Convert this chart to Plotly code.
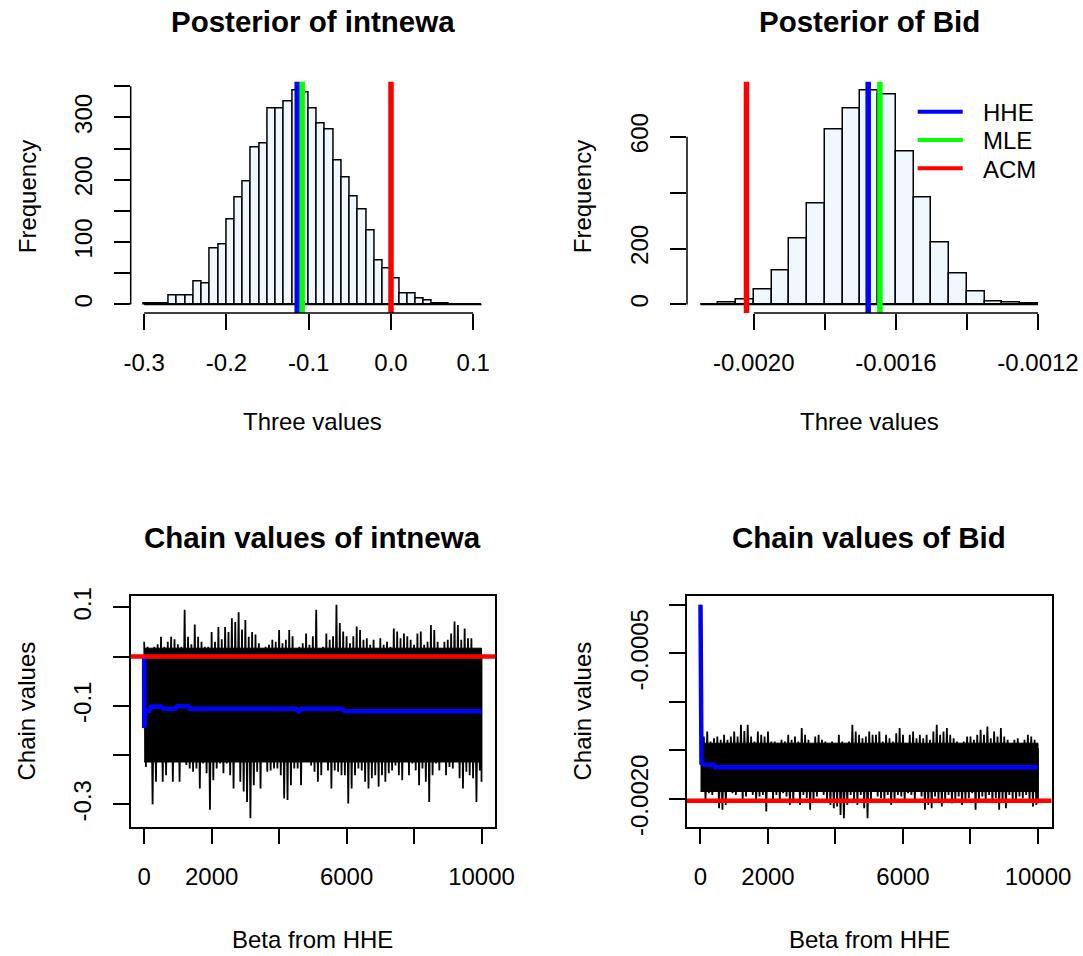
import plotly.graph_objects as go

FONT = "Liberation Sans, Arial, sans-serif"
W, H = 1083, 956

# ---------------- data ----------------
# Histogram of intnewa posterior draws (breaks start -0.30, width 0.01)
int_break_start = -0.30
int_bin_width = 0.01
int_counts = [2, 2, 2, 14, 14, 14, 36, 33, 90, 96, 137, 171, 197, 252, 259,
              314, 314, 325, 344, 340, 314, 290, 280, 231, 203, 174, 153, 118,
              70, 57, 42, 18, 18, 10, 6, 2, 2, 0, 0, 0, 0]

# Histogram of Bid posterior draws (breaks start -0.00215, width 0.00005)
bid_break_start = -0.00215
bid_bin_width = 0.00005
bid_counts = [1, 6, 19, 54, 123, 236, 360, 627, 701, 767, 751, 549, 381, 222,
              110, 47, 12, 6, 2]

# Three estimates
est_names = ["HHE", "MLE", "ACM"]
est_colors = ["#0000FF", "#00FF00", "#FF0000"]
int_estimates = [-0.114, -0.108, 0.0]
bid_estimates = [-0.001678, -0.001645, -0.0020205]

# Chain traces: block start iteration, block max (upper) and block min (lower)
chain_iter = [1] + list(range(100, 10001, 100))
int_upper = [0.030, 0.020, 0.012, 0.020, 0.025, 0.040, 0.020, 0.030, 0.040, 0.035,
             0.025, 0.020, 0.095, 0.040, 0.025, 0.065, 0.040, 0.030, 0.020, 0.020,
             0.050, 0.030, 0.060, 0.035, 0.060, 0.050, 0.078, 0.070, 0.090, 0.055,
             0.074, 0.040, 0.050, 0.045, 0.027, 0.017, 0.020, 0.024, 0.034, 0.030,
             0.054, 0.027, 0.034, 0.054, 0.041, 0.017, 0.020, 0.027, 0.047, 0.024,
             0.041, 0.095, 0.017, 0.020, 0.047, 0.034, 0.041, 0.105, 0.068, 0.051,
             0.041, 0.027, 0.041, 0.061, 0.054, 0.034, 0.037, 0.024, 0.034, 0.017,
             0.037, 0.024, 0.030, 0.020, 0.057, 0.051, 0.037, 0.047, 0.041, 0.034,
             0.024, 0.047, 0.051, 0.024, 0.030, 0.064, 0.054, 0.030, 0.017, 0.030,
             0.034, 0.047, 0.071, 0.064, 0.034, 0.057, 0.037, 0.037, 0.014, 0.010,
             0.005]
int_lower = [-0.224, -0.190, -0.300, -0.254, -0.214, -0.254, -0.241, -0.214, -0.254, -0.210,
             -0.254, -0.214, -0.220, -0.227, -0.234, -0.227, -0.268, -0.217, -0.237, -0.311,
             -0.251, -0.227, -0.217, -0.237, -0.217, -0.241, -0.268, -0.214, -0.254, -0.274,
             -0.295, -0.328, -0.261, -0.234, -0.268, -0.194, -0.234, -0.231, -0.227, -0.227,
             -0.241, -0.288, -0.291, -0.261, -0.227, -0.227, -0.261, -0.207, -0.214, -0.221,
             -0.234, -0.254, -0.241, -0.214, -0.231, -0.268, -0.231, -0.234, -0.241, -0.241,
             -0.298, -0.268, -0.241, -0.227, -0.231, -0.254, -0.268, -0.247, -0.241, -0.264,
             -0.241, -0.254, -0.237, -0.231, -0.221, -0.241, -0.251, -0.214, -0.241, -0.217,
             -0.231, -0.261, -0.227, -0.254, -0.295, -0.241, -0.217, -0.231, -0.214, -0.241,
             -0.224, -0.227, -0.207, -0.247, -0.268, -0.234, -0.241, -0.247, -0.295, -0.231,
             -0.254]
bid_upper = [0.0, -0.001357, -0.001306, -0.001409, -0.001375, -0.001357, -0.001392, -0.001340, -0.001392, -0.001357,
             -0.001306, -0.001357, -0.001237, -0.001300, -0.001237, -0.001357, -0.001409, -0.001306, -0.001340, -0.001357,
             -0.001306, -0.001409, -0.001409, -0.001426, -0.001392, -0.001409, -0.001340, -0.001392, -0.001357, -0.001409,
             -0.001271, -0.001340, -0.001392, -0.001443, -0.001357, -0.001340, -0.001392, -0.001409, -0.001426, -0.001409,
             -0.001443, -0.001340, -0.001409, -0.001426, -0.001409, -0.001237, -0.001306, -0.001340, -0.001375, -0.001357,
             -0.001306, -0.001340, -0.001340, -0.001306, -0.001409, -0.001340, -0.001375, -0.001409, -0.001323, -0.001271,
             -0.001340, -0.001426, -0.001340, -0.001306, -0.001375, -0.001340, -0.001375, -0.001340, -0.001392, -0.001306,
             -0.001237, -0.001340, -0.001306, -0.001271, -0.001340, -0.001375, -0.001409, -0.001443, -0.001409, -0.001357,
             -0.001357, -0.001392, -0.001340, -0.001289, -0.001340, -0.001254, -0.001375, -0.001306, -0.001357, -0.001271,
             -0.001357, -0.001392, -0.001426, -0.001392, -0.001375, -0.001426, -0.001392, -0.001340, -0.001357, -0.001392,
             -0.001478]
bid_lower = [-0.001924, -0.002027, -0.001941, -0.001959, -0.001907, -0.002096, -0.002113, -0.002062, -0.001907, -0.001941,
             -0.001959, -0.001924, -0.002027, -0.001976, -0.001924, -0.001959, -0.002027, -0.001976, -0.001959, -0.002131,
             -0.001924, -0.002010, -0.001959, -0.002027, -0.001941, -0.001976, -0.002062, -0.002027, -0.001907, -0.002062,
             -0.001959, -0.001993, -0.002113, -0.002027, -0.001976, -0.001924, -0.001959, -0.002027, -0.002062, -0.002096,
             -0.002079, -0.002165, -0.002199, -0.002062, -0.001959, -0.002027, -0.002062, -0.001959, -0.002096, -0.002199,
             -0.002010, -0.001924, -0.001976, -0.001993, -0.002027, -0.001959, -0.002062, -0.002027, -0.001959, -0.001976,
             -0.002027, -0.001941, -0.001959, -0.002027, -0.001924, -0.001976, -0.002113, -0.002062, -0.002096, -0.001976,
             -0.002027, -0.002079, -0.002027, -0.001959, -0.002045, -0.002010, -0.001976, -0.002062, -0.002027, -0.001993,
             -0.001941, -0.002113, -0.002027, -0.001976, -0.002027, -0.001959, -0.002045, -0.001993, -0.002113, -0.002027,
             -0.002096, -0.001959, -0.002010, -0.002027, -0.001976, -0.001993, -0.001959, -0.002027, -0.002079, -0.002062,
             -0.002045]

# Running HHE estimate along the chain
int_run_iter = [1, 3, 40, 150, 200, 500, 560, 930, 980, 1300, 1350, 4500, 4580, 4660, 5860, 5960, 10000]
int_run_mean = [0.0, -0.145, -0.110, -0.110, -0.102, -0.102, -0.106, -0.106, -0.101, -0.101,
                -0.106, -0.106, -0.111, -0.106, -0.106, -0.111, -0.111]
bid_run_iter = [1, 3, 30, 130, 375, 425, 10000]
bid_run_mean = [0.0, -0.001615, -0.001632, -0.001649, -0.001649, -0.001673, -0.001673]

# Tick labels
int_hist_xticks = [-0.3, -0.2, -0.1, 0.0, 0.1]
int_hist_xlabels = ["-0.3", "-0.2", "-0.1", "0.0", "0.1"]
int_hist_yticks = [0, 50, 100, 150, 200, 250, 300, 350]
int_hist_ylabels = ["0", "", "100", "", "200", "", "300", ""]
bid_hist_xticks = [-0.0020, -0.0018, -0.0016, -0.0014, -0.0012]
bid_hist_xlabels = ["-0.0020", "", "-0.0016", "", "-0.0012"]
bid_hist_yticks = [0, 200, 400, 600]
bid_hist_ylabels = ["0", "200", "", "600"]
chain_xticks = [0, 2000, 4000, 6000, 8000, 10000]
chain_xlabels = ["0", "2000", "", "6000", "", "10000"]
int_chain_yticks = [-0.3, -0.2, -0.1, 0.0, 0.1]
int_chain_ylabels = ["-0.3", "", "-0.1", "", "0.1"]
bid_chain_yticks = [-0.0020, -0.0015, -0.0010, -0.0005, 0.0]
bid_chain_ylabels = ["-0.0020", "", "", "-0.0005", ""]

# ---------------- layout geometry (pixels) ----------------
LEFT = (130.7, 495.0)
RIGHT = (687.0, 1051.5)
TOP = (81.5, 313.0)
BOTTOM = (596.3, 826.7)


def xdom(p):
    return [p[0] / W, p[1] / W]


def ydom(p):
    return [1 - p[1] / H, 1 - p[0] / H]


def pad(lo, hi):
    r = hi - lo
    return [lo - 0.04 * r, hi + 0.04 * r]


fig = go.Figure()

# ---------------- histograms ----------------
hists = [
    (int_break_start, int_bin_width, int_counts, int_estimates, "x", "y"),
    (bid_break_start, bid_bin_width, bid_counts, bid_estimates, "x2", "y2"),
]
hist_ranges = []
for start, bw, counts, ests, xa, ya in hists:
    centers = [start + bw * (i + 0.5) for i in range(len(counts))]
    end = start + bw * len(counts)
    xr = pad(start, end)
    yr = pad(0, max(counts))
    hist_ranges.append((xr, yr))
    fig.add_trace(go.Scatter(x=[start, end], y=[0, 0], mode="lines",
                             line=dict(color="black", width=1.5),
                             xaxis=xa, yaxis=ya, showlegend=False, hoverinfo="skip"))
    fig.add_trace(go.Bar(x=centers, y=counts, width=bw,
                         marker=dict(color="#F0F8FF", line=dict(color="black", width=1.5)),
                         xaxis=xa, yaxis=ya, showlegend=False))
    for v, c in zip(ests, est_colors):
        fig.add_trace(go.Scatter(x=[v, v], y=yr, mode="lines",
                                 line=dict(color=c, width=5.5),
                                 xaxis=xa, yaxis=ya, showlegend=False))

# ---------------- chains ----------------
chains = [
    (int_upper, int_lower, int_run_iter, int_run_mean, int_estimates[2], "x3", "y3"),
    (bid_upper, bid_lower, bid_run_iter, bid_run_mean, bid_estimates[2], "x4", "y4"),
]
chain_ranges = []
for up, lo, rit, rmean, acm, xa, ya in chains:
    chain_ranges.append((pad(1, 10000), pad(min(lo), max(up))))
    # dense core of the trace: where nearly all blocks overlap
    n = len(up)
    core_top = sorted(up[1:])[int(0.06 * n)]
    core_bot = sorted(lo, reverse=True)[int(0.06 * n)]
    fig.add_trace(go.Scatter(x=[chain_iter[0], chain_iter[-1], chain_iter[-1], chain_iter[0]],
                             y=[core_top, core_top, core_bot, core_bot],
                             fill="toself", fillcolor="black", mode="lines",
                             line=dict(color="black", width=1),
                             xaxis=xa, yaxis=ya, showlegend=False))
    # spikes: zig-zag between block max and block min
    zx, zy = [], []
    for i, it in enumerate(chain_iter):
        zx.append(it)
        zy.append(up[i])
        zx.append(min(it + 50, 10000))
        zy.append(lo[i])
    fig.add_trace(go.Scatter(x=zx, y=zy, mode="lines", line=dict(color="black", width=1.8),
                             xaxis=xa, yaxis=ya, showlegend=False))
    fig.add_trace(go.Scatter(x=rit, y=rmean, mode="lines", line=dict(color="#0000FF", width=4.5),
                             xaxis=xa, yaxis=ya, showlegend=False))
    fig.add_shape(type="line", xref=xa + " domain", yref=ya, x0=0, x1=1, y0=acm, y1=acm,
                  line=dict(color="#FF0000", width=4.5))

# ---------------- axes ----------------
tickfont = dict(family=FONT, size=24, color="black")
base = dict(showgrid=False, zeroline=False, ticks="outside", ticklen=16, tickwidth=1.5,
            tickcolor="black", tickfont=tickfont, ticklabelstandoff=12, fixedrange=True,
            automargin=False)
box = dict(showline=True, mirror=True, linecolor="black", linewidth=1.5)

fig.update_layout(
    xaxis=dict(base, domain=xdom(LEFT), anchor="y", range=hist_ranges[0][0],
               tickmode="array", tickvals=int_hist_xticks, ticktext=int_hist_xlabels, showline=False),
    yaxis=dict(base, domain=ydom(TOP), anchor="x", range=hist_ranges[0][1],
               tickmode="array", tickvals=int_hist_yticks, ticktext=int_hist_ylabels,
               tickangle=-90, showline=False),
    xaxis2=dict(base, domain=xdom(RIGHT), anchor="y2", range=hist_ranges[1][0],
                tickmode="array", tickvals=bid_hist_xticks, ticktext=bid_hist_xlabels, showline=False),
    yaxis2=dict(base, domain=ydom(TOP), anchor="x2", range=hist_ranges[1][1],
                tickmode="array", tickvals=bid_hist_yticks, ticktext=bid_hist_ylabels,
                tickangle=-90, showline=False),
    xaxis3=dict(base, **box, domain=xdom(LEFT), anchor="y3", range=chain_ranges[0][0],
                tickmode="array", tickvals=chain_xticks, ticktext=chain_xlabels),
    yaxis3=dict(base, **box, domain=ydom(BOTTOM), anchor="x3", range=chain_ranges[0][1],
                tickmode="array", tickvals=int_chain_yticks, ticktext=int_chain_ylabels,
                tickangle=-90),
    xaxis4=dict(base, **box, domain=xdom(RIGHT), anchor="y4", range=chain_ranges[1][0],
                tickmode="array", tickvals=chain_xticks, ticktext=chain_xlabels),
    yaxis4=dict(base, **box, domain=ydom(BOTTOM), anchor="x4", range=chain_ranges[1][1],
                tickmode="array", tickvals=bid_chain_yticks, ticktext=bid_chain_ylabels,
                tickangle=-90),
)

# R-style detached axis lines for the histograms (first tick to last tick)
for xa, ya, xt, yt in [("x", "y", int_hist_xticks, int_hist_yticks),
                       ("x2", "y2", bid_hist_xticks, bid_hist_yticks)]:
    fig.add_shape(type="line", xref=xa, yref=ya + " domain", x0=xt[0], x1=xt[-1], y0=0, y1=0,
                  line=dict(color="black", width=1.5))
    fig.add_shape(type="line", xref=xa + " domain", yref=ya, x0=0, x1=0, y0=yt[0], y1=yt[-1],
                  line=dict(color="black", width=1.5))


# ---------------- text ----------------
def ann(text, px, py, size=24, angle=0, bold=False, xanchor="center"):
    fig.add_annotation(text=("<b>%s</b>" % text) if bold else text,
                       x=px / W, y=1 - py / H, xref="paper", yref="paper",
                       showarrow=False, textangle=angle, xanchor=xanchor, yanchor="middle",
                       font=dict(family=FONT, size=size, color="black"))


lc = (LEFT[0] + LEFT[1]) / 2
rc = (RIGHT[0] + RIGHT[1]) / 2
tc = (TOP[0] + TOP[1]) / 2
bc = (BOTTOM[0] + BOTTOM[1]) / 2
ann("Posterior of intnewa", lc, 22, size=29.5, bold=True)
ann("Posterior of Bid", rc, 22, size=29.5, bold=True)
ann("Chain values of intnewa", lc, 537, size=29.5, bold=True)
ann("Chain values of Bid", rc, 537, size=29.5, bold=True)
ann("Three values", lc, 422)
ann("Three values", rc, 422)
ann("Beta from HHE", lc, 939)
ann("Beta from HHE", rc, 939)
ann("Frequency", 27, tc, angle=-90)
ann("Frequency", 582, tc, angle=-90)
ann("Chain values", 26, bc, angle=-90)
ann("Chain values", 582, bc, angle=-90)

# legend (top-right panel)
for i, (nm, col) in enumerate(zip(est_names, est_colors)):
    ly = 111.7 + 28.3 * i
    fig.add_shape(type="line", xref="paper", yref="paper", x0=917.7 / W, x1=962.7 / W,
                  y0=1 - ly / H, y1=1 - ly / H, line=dict(color=col, width=4))
    ann(nm, 981, ly + 1, xanchor="left")

fig.update_layout(width=W, height=H,
                  margin=dict(l=0, r=0, t=0, b=0, pad=0, autoexpand=False),
                  paper_bgcolor="white", plot_bgcolor="white", showlegend=False,
                  bargap=0)

fig.write_html("out.html")
